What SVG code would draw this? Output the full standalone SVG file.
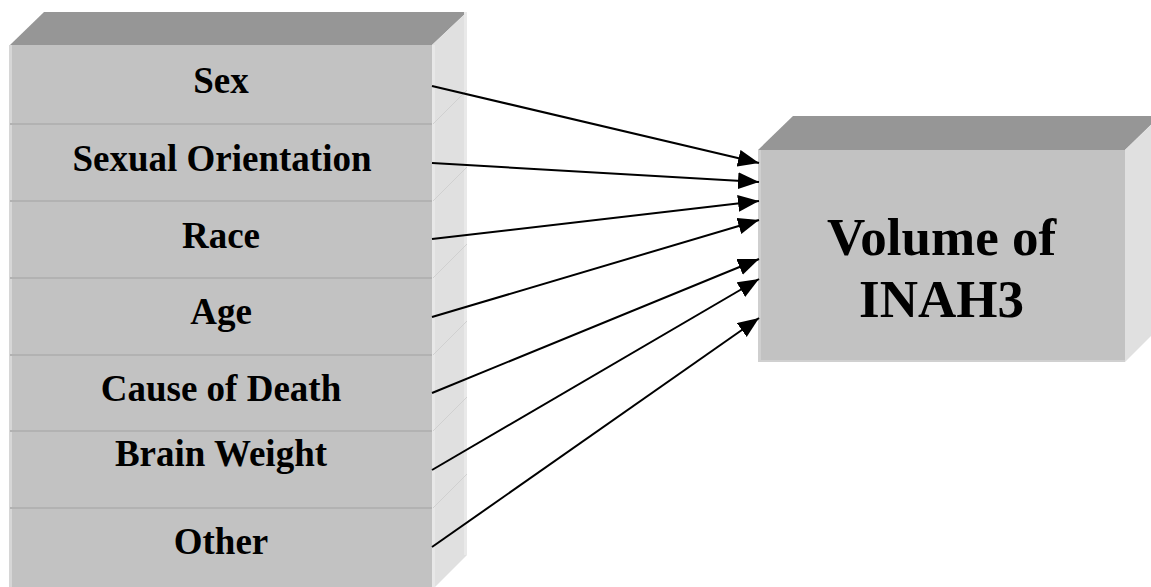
<svg xmlns="http://www.w3.org/2000/svg" width="1151" height="587" viewBox="0 0 1151 587">
<style>
.front{fill:#c2c2c2}
.top{fill:#969696}
.side{fill:#e0e0e0}
.div{stroke:#b2b2b2;stroke-width:2}
.diag{stroke:#d0d0d0;stroke-width:1}
.lab{font-family:"Liberation Serif","Times New Roman",serif;font-weight:bold;font-size:37px;fill:#000;text-anchor:middle}
.big{font-family:"Liberation Serif","Times New Roman",serif;font-weight:bold;font-size:53px;fill:#000;text-anchor:middle}
.conn{stroke:#000;stroke-width:2;fill:none;marker-end:url(#ah)}
</style>
<defs>
<marker id="ah" markerUnits="userSpaceOnUse" markerWidth="22" markerHeight="18" refX="21" refY="8.5" orient="auto" viewBox="0 0 22 18">
<path d="M0,0 L21,8.5 L0,17 Z" fill="#000"/>
</marker>
</defs>
<rect width="1151" height="587" fill="#fff"/>
<g id="factors">
<polygon class="top" points="10,45 44,12 467,12 432,45"/>
<polygon class="side" points="432,45 467,12 467,555 432,590"/>
<rect x="464" y="12" width="3" height="543" fill="#e9e9e9"/>
<rect class="front" x="10" y="45" width="422" height="545"/>
<rect x="9" y="45" width="3" height="545" fill="#d6d6d6"/>
<rect x="432" y="45" width="3" height="545" fill="#e8e8e8"/>
<line class="div" x1="10" y1="124" x2="432" y2="124"/>
<line class="div" x1="10" y1="201" x2="432" y2="201"/>
<line class="div" x1="10" y1="278" x2="432" y2="278"/>
<line class="div" x1="10" y1="355" x2="432" y2="355"/>
<line class="div" x1="10" y1="431" x2="432" y2="431"/>
<line class="div" x1="10" y1="508" x2="432" y2="508"/>
<line class="diag" x1="433" y1="124" x2="467" y2="90"/>
<line class="diag" x1="433" y1="201" x2="467" y2="167"/>
<line class="diag" x1="433" y1="278" x2="467" y2="244"/>
<line class="diag" x1="433" y1="355" x2="467" y2="321"/>
<line class="diag" x1="433" y1="431" x2="467" y2="397"/>
<line class="diag" x1="433" y1="508" x2="467" y2="474"/>
</g>
<g id="sex"><text class="lab" x="221" y="93">Sex</text></g>
<g id="orientation"><text class="lab" x="222" y="171">Sexual Orientation</text></g>
<g id="race"><text class="lab" x="221" y="248">Race</text></g>
<g id="age"><text class="lab" x="221" y="324">Age</text></g>
<g id="cause"><text class="lab" x="221" y="401">Cause of Death</text></g>
<g id="brain"><text class="lab" x="221" y="466">Brain Weight</text></g>
<g id="other"><text class="lab" x="221" y="554">Other</text></g>
<g id="volume">
<polygon class="top" points="758,150 793,116 1160,116 1125,150"/>
<polygon class="side" points="1125,150 1160,116 1160,327 1125,362"/>
<rect class="front" x="758" y="150" width="367" height="212"/>
<rect x="758" y="150" width="3" height="212" fill="#cfcfcf"/>
<rect x="758" y="360" width="367" height="2" fill="#d0d0d0"/>
<text class="big" x="941.5" y="255">Volume of</text>
<text class="big" x="941.5" y="317">INAH3</text>
</g>
<g id="connectors">
<line class="conn" x1="432" y1="86" x2="759" y2="163"/>
<line class="conn" x1="432" y1="163" x2="759" y2="182"/>
<line class="conn" x1="432" y1="239" x2="759" y2="201"/>
<line class="conn" x1="432" y1="317" x2="759" y2="220"/>
<line class="conn" x1="432" y1="393" x2="759" y2="259"/>
<line class="conn" x1="432" y1="470" x2="759" y2="279"/>
<line class="conn" x1="432" y1="547" x2="759" y2="318"/>
</g>
</svg>
